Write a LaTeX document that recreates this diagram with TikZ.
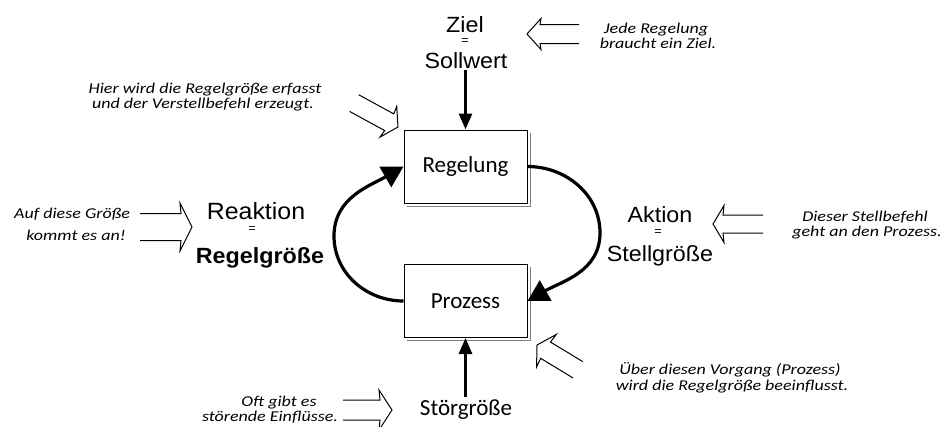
\documentclass[tikz,border=0pt]{standalone}
\usepackage{fontspec}
\setmainfont{Carlito}
\newfontfamily\arialx{Liberation Sans}[FakeStretch=1.06]
\newfontfamily\notefont{Carlito}[FakeStretch=1.2]
\usetikzlibrary{arrows.meta}
\newcommand\hollowarrow[7]{%
  \begin{scope}[shift={(#1,#2)},rotate=#3]
    \draw[line width=1pt,line join=miter] (-#4,#6) -- (-#5,#6) -- (-#5-1,#7) -- (0,0) -- (-#5-1,-#7) -- (-#5,-#6) -- (-#4,-#6);
  \end{scope}}
\begin{document}
\begin{tikzpicture}[x=1pt,y=-1pt,
  box/.style={draw,line width=1pt,fill=white,minimum width=123pt,minimum height=73pt,inner sep=0pt,font=\fontsize{23}{27}\selectfont},
  big/.style={inner sep=0pt,anchor=base,font=\arialx\fontsize{22}{26}\selectfont},
  eq/.style={inner sep=0pt,font=\arialx\fontsize{12}{14}\selectfont},
  note/.style={inner sep=0pt,anchor=base,font=\notefont\itshape\fontsize{15}{17}\selectfont},
  loop/.style={line width=3.2pt,-{Triangle[length=21pt,width=23pt]}},
  vert/.style={line width=3pt,-{Triangle[length=16pt,width=13pt]}},
  shadow/.style={gray,line width=0.8pt}]
\useasboundingbox[fill=white] (0,0) rectangle (941,426);

% boxes
\node[box] (reg) at (465.5,166.5) {Regelung};
\node[box] (proz) at (465.5,301) {Prozess};
\draw[shadow] ([shift={(2.5,3)}]reg.north east) -- ([shift={(2.5,2.5)}]reg.south east) -- ([shift={(3,2.5)}]reg.south west);
\draw[shadow] ([shift={(2.5,3)}]proz.north east) -- ([shift={(2.5,2.5)}]proz.south east) -- ([shift={(3,2.5)}]proz.south west);

% main labels
\node[big] (ziel) at (465,32) {Ziel};
\node[eq] (zeq) at (465,42) {=};
\node[big] (soll) at (466,68) {Sollwert};
\node[big,font=\arialx\fontsize{23.5}{27}\selectfont] (reak) at (256,219) {Reaktion};
\node[eq] (req) at (252,230) {=};
\node[big,font=\arialx\bfseries\fontsize{22}{26}\selectfont] (rgr) at (260,263) {Regelgröße};
\node[big] (akt) at (660,222) {Aktion};
\node[eq] (aeq) at (658,233) {=};
\node[big] (stg) at (660,261) {Stellgröße};
\node[inner sep=0pt,anchor=base,font=\fontsize{23}{27}\selectfont] (stoer) at (466,415) {Störgröße};

% connectors
\draw[vert,shorten <=2pt] (soll.south -| reg.north) -- (reg.north);
\draw[vert,shorten <=2pt] (stoer.north -| proz.south) -- (proz.south);
\coordinate (lft) at (334,236);
\coordinate (rgt) at (600,233);
\draw[loop] (proz.west) to[out=180,in=270] (lft) to[out=90,in=210] (reg.west);
\draw[loop] (reg.east) to[out=0,in=90] (rgt) to[out=270,in=30] (proz.east);

% notes
\node[note] (n1a) at (656,33) {Jede Regelung};
\node[note] (n1b) at (658,48) {braucht ein Ziel.};
\node[note] (n2a) at (205,93) {Hier wird die Regelgröße erfasst};
\node[note] (n2b) at (203,108) {und der Verstellbefehl erzeugt.};
\node[note] (n3a) at (72,218) {Auf diese Größe};
\node[note] (n3b) at (76,240) {kommt es an!};
\node[note] (n4a) at (865,221) {Dieser Stellbefehl};
\node[note] (n4b) at (867,236) {geht an den Prozess.};
\node[note] (n5a) at (730,374) {Über diesen Vorgang (Prozess)};
\node[note] (n5b) at (732,390) {wird die Regelgröße beeinflusst.};
\node[note] (n6a) at (279,406) {Oft gibt es};
\node[note] (n6b) at (270,421) {störende Einflüsse.};

% hollow pointer arrows
\hollowarrow{527}{34}{180}{52}{13}{9.5}{15.5}
\hollowarrow{398}{127}{-28.6}{50}{10}{9.5}{17.5}
\hollowarrow{192}{227}{0}{52}{11}{13.5}{24}
\hollowarrow{713}{224}{180}{50}{10}{9}{18.5}
\hollowarrow{537}{345}{148.8}{48}{10}{9.5}{19}
\hollowarrow{392}{410}{0}{49}{12}{10}{20}
\end{tikzpicture}
\end{document}
